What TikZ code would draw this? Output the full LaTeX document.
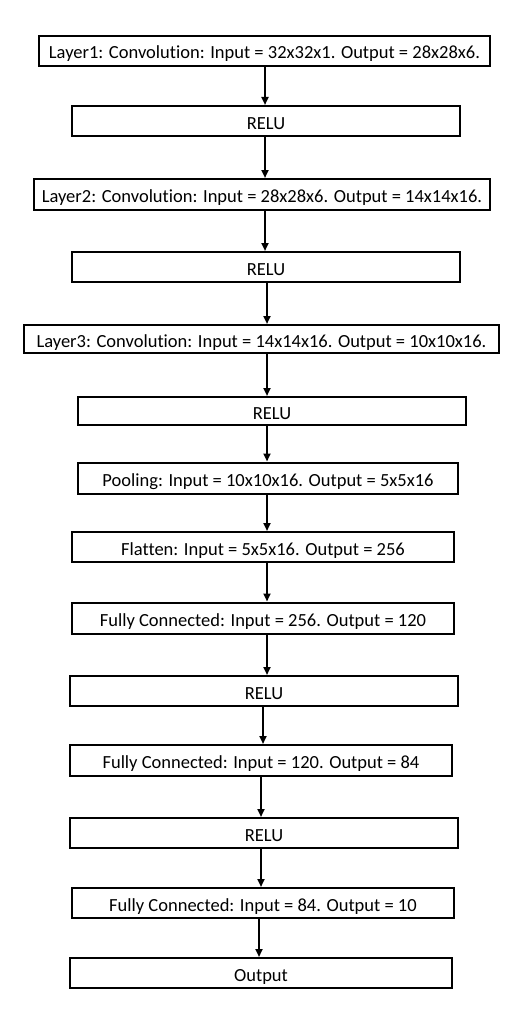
\documentclass[tikz,border=0pt]{standalone}
\usepackage{fontspec}
\setmainfont{Carlito}[Ligatures=NoCommon]
\usetikzlibrary{arrows.meta, positioning}

\begin{document}
\begin{tikzpicture}[
            x = 1pt, y = -1pt,
            > = {Triangle[length=8pt, width=7pt]},
            line width = 2pt,
            font = \fontsize{18.5}{22}\selectfont
        ]

        \tikzstyle{layer}=[
            draw = black,
            fill = white,
            inner sep = 0pt,
            text height = 16pt,
            text depth = 0pt,
            minimum height = 30pt
        ]

        \useasboundingbox (0,0) rectangle (518,1030);

        \node[layer, minimum width=451pt] (conv1) at (264.5,51) {Layer1: Convolution: Input = 32x32x1. Output = 28x28x6.};
        \node[layer, minimum width=388pt] (relu1) at (266,121) {RELU};
        \node[layer, minimum width=456pt, minimum height=31pt] (conv2) at (262,194.5) {Layer2: Convolution: Input = 28x28x6. Output = 14x14x16.};
        \node[layer, minimum width=388pt] (relu2) at (266,267) {RELU};
        \node[layer, minimum width=475pt, minimum height=28pt] (conv3) at (261.5,339) {Layer3: Convolution: Input = 14x14x16. Output = 10x10x16.};
        \node[layer, minimum width=388pt, minimum height=28pt] (relu3) at (272,411) {RELU};
        \node[layer, minimum width=380pt, minimum height=31pt] (pool) at (268,478) {Pooling: Input = 10x10x16. Output = 5x5x16};
        \node[layer, minimum width=382pt] (flat) at (263,547) {Flatten: Input = 5x5x16. Output = 256};
        \node[layer, minimum width=382pt, minimum height=31pt] (fc1) at (263,618) {Fully Connected: Input = 256. Output = 120};
        \node[layer, minimum width=388pt] (relu4) at (264,691) {RELU};
        \node[layer, minimum width=382pt, minimum height=31pt] (fc2) at (261,760.5) {Fully Connected: Input = 120. Output = 84};
        \node[layer, minimum width=388pt] (relu5) at (264,833) {RELU};
        \node[layer, minimum width=382pt] (fc3) at (263,903) {Fully Connected: Input = 84. Output = 10};
        \node[layer, minimum width=382pt] (out) at (261,973) {Output};

        % connectors between layers
        \foreach \a/\b/\x in {conv1/relu1/265, relu1/conv2/265, conv2/relu2/265,
                relu2/conv3/267, conv3/relu3/267, relu3/pool/267, pool/flat/267,
                flat/fc1/267, fc1/relu4/267, relu4/fc2/263, fc2/relu5/261,
                relu5/fc3/261, fc3/out/259}
            \draw[->] (\a.south -| \x,0) -- (\b.north -| \x,0);

    \end{tikzpicture}
\end{document}
